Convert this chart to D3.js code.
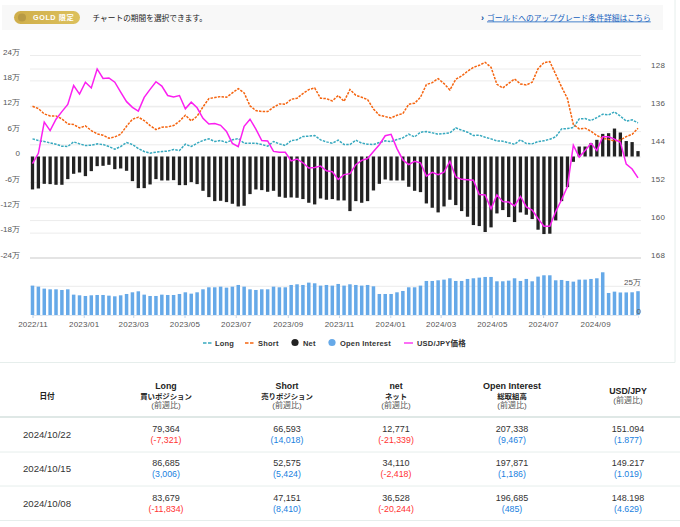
<!DOCTYPE html>
<html>
<head>
<meta charset="utf-8">
<script src="https://cdn.jsdelivr.net/npm/d3@7"></script>
<style>
html, body { margin: 0; padding: 0; background: #fff; }
svg { display: block; font-family: "Liberation Sans", "Noto Sans CJK JP", sans-serif; }
</style>
</head>
<body>
<div id="chart"></div>
<script>
// weekly COT report dates, Tuesdays
var firstDate = new Date(Date.UTC(2022, 10, 1));
var lastDate = new Date(Date.UTC(2024, 9, 22));

var longPos = [41700,37800,35400,32300,29100,24400,23600,34600,29900,26000,26800,29900,28300,23600,17300,23600,33100,28300,18900,11800,7900,10200,11800,12600,16500,14200,29100,23600,31500,37800,41700,35400,37800,33100,39400,42500,31500,31500,31500,28300,24400,35400,29900,26000,37800,39400,47200,48000,49600,39400,34600,31500,38600,
	28300,28300,38600,31500,29100,28300,33100,37000,35400,40100,44100,52700,46400,57500,59000,55900,52700,54300,55900,67700,62200,57500,49600,50400,45600,41700,37000,36200,32300,29100,39400,30700,29900,35400,37000,40900,46400,65300,66100,68500,88900,89700,85000,92100,99900,98400,105500,95513,83679,86685,79364];

var shortPos = [118800,113300,100700,96000,96000,88900,77100,75600,67700,72400,61400,53500,50400,43300,46400,52700,71600,88100,92900,85000,73200,63700,69300,70000,73200,83400,97600,84200,95200,117300,136900,139300,141700,140100,150300,160500,150300,119600,108600,106200,106200,116500,124300,123600,135400,137700,148700,158200,162100,137700,136900,131400,144000,
	130600,158200,144800,140100,134600,112500,97600,94400,91300,97600,101500,123600,125900,140100,170000,174700,184200,172400,157400,182600,190500,201500,210900,215600,222700,210900,170800,162100,173100,183400,171600,169200,175500,207800,221900,224300,194400,164500,136900,75600,65300,66900,59800,49600,43300,40100,37000,38741,47151,52575,66593];

var netPos = [-77900,-75600,-64600,-65300,-66900,-66900,-53500,-40900,-37800,-46400,-34600,-22800,-22000,-19700,-29900,-28300,-33800,-58200,-74800,-74800,-66100,-53500,-56700,-56700,-55900,-67700,-67700,-60600,-65300,-81100,-96000,-105500,-104700,-107800,-111800,-118100,-116500,-88900,-77900,-79500,-83400,-81100,-95200,-97600,-96800,-97600,-100700,-109400,-113300,-99200,-102300,-100700,-103900,
	-103900,-129100,-105500,-109400,-105500,-80300,-64600,-54300,-56700,-56700,-56700,-71600,-81100,-84200,-111000,-121200,-132200,-118100,-102300,-114900,-129100,-142400,-162100,-164500,-178600,-167600,-134600,-126700,-143200,-155000,-132200,-137700,-148000,-173100,-183400,-182600,-151100,-105500,-72400,-12600,23600,23600,31500,39400,53500,55100,66100,56772,36528,34110,12771];

var openInterest = [255800,247100,229700,223800,223800,218000,223800,177300,171500,165700,171500,174400,174400,168600,162800,171500,183100,197700,206400,177300,165700,165700,177300,174400,174400,183100,197700,186000,197700,223800,241300,241300,247100,238400,247100,261600,247100,223800,218000,223800,223800,247100,241300,241300,261600,267400,261600,282000,276200,255800,261600,255800,270400,
	255800,267400,261600,255800,261600,250000,183100,183100,183100,197700,209300,241300,241300,255800,296500,296500,302300,308100,319800,296500,296500,314000,319800,325600,331400,331400,293600,293600,299400,319800,296500,314000,293600,334300,345900,345900,302300,305200,296500,290700,308100,308100,314000,319800,372100,191900,203500,196200,196685,197871,207338];

var usdJpy = [148.1,145.9,139.3,141.1,138.7,137.1,135.6,131.6,133.4,130.9,132.1,128.1,130.1,130.0,130.9,133.0,135.0,136.2,137.0,134.1,132.4,130.8,131.7,133.7,134.0,133.7,136.5,135.1,136.3,138.5,139.7,139.6,140.0,141.3,143.8,144.5,140.2,138.7,140.8,143.2,143.3,145.5,145.7,145.7,147.5,147.1,147.9,149.0,148.9,148.6,149.6,149.8,151.4,
	150.4,150.2,148.3,147.4,147.0,145.5,144.1,142.2,141.9,144.9,147.3,148.3,147.6,147.9,150.7,149.9,150.4,149.9,147.6,150.9,151.4,151.5,151.6,154.6,154.7,157.6,154.7,156.1,156.2,157.0,155.0,157.2,157.9,159.7,161.3,161.3,158.2,155.7,152.9,144.2,146.7,145.3,143.8,145.3,142.4,142.4,142.9,143.569,148.198,149.217,151.094];

var leftTicks = [240000,180000,120000,60000,0,-60000,-120000,-180000,-240000];
var rightTicks = [128,136,144,152,160,168];
var oiTicks = [0,250000];

var tableDates = ["2024/10/22","2024/10/15","2024/10/08"];
var tableLong = ["79,364","86,685","83,679"];
var tableLongChg = ["(-7,321)","(3,006)","(-11,834)"];
var tableShort = ["66,593","52,575","47,151"];
var tableShortChg = ["(14,018)","(5,424)","(8,410)"];
var tableNet = ["12,771","34,110","36,528"];
var tableNetChg = ["(-21,339)","(-2,418)","(-20,244)"];
var tableOi = ["207,338","197,871","196,685"];
var tableOiChg = ["(9,467)","(1,186)","(485)"];
var tableFx = ["151.094","149.217","148.198"];
var tableFxChg = ["(1.877)","(1.019)","(4.629)"];

var dates = d3.utcDay.range(firstDate, d3.utcDay.offset(lastDate, 1), 7);

var svg = d3.select("#chart").append("svg")
	.attr("width", 680)
	.attr("height", 527);

var fontColor = "#555";
var gridColor = "#ececec";

// top notice bar
svg.append("rect").attr("x", 2).attr("y", 5).attr("width", 661).attr("height", 25).attr("fill", "#f8f8f8");
var pill = svg.append("defs").append("linearGradient").attr("id", "gold");
pill.append("stop").attr("offset", "0%").attr("stop-color", "#cfae4a");
pill.append("stop").attr("offset", "100%").attr("stop-color", "#dcc05c");
svg.append("rect").attr("x", 14).attr("y", 11).attr("width", 66).attr("height", 13).attr("rx", 6.5).attr("fill", "url(#gold)");
svg.append("circle").attr("cx", 22).attr("cy", 17.5).attr("r", 4).attr("fill", "#b89a44");
svg.append("text").attr("x", 33).attr("y", 20.3).attr("font-size", 7.2).attr("font-weight", "bold").attr("fill", "#fff").attr("letter-spacing", 0.6).text("GOLD 限定");
svg.append("text").attr("x", 92.5).attr("y", 20.5).attr("font-size", 7.7).attr("fill", "#222").text("チャートの期間を選択できます。");
svg.append("text").attr("x", 481).attr("y", 20.5).attr("font-size", 9).attr("font-weight", "bold").attr("fill", "#0b4ea2").text("›");
svg.append("text").attr("x", 487).attr("y", 20.5).attr("font-size", 7.8).attr("fill", "#1560bd").attr("text-decoration", "underline").text("ゴールドへのアップグレード条件詳細はこちら");

// frame around chart area
svg.append("line").attr("x1", 675).attr("x2", 675).attr("y1", 0).attr("y2", 362.5).attr("stroke", "#e6eeec");
svg.append("line").attr("x1", 0).attr("x2", 675).attr("y1", 362.5).attr("y2", 362.5).attr("stroke", "#e6eeec");

var x = d3.scaleUtc().domain([firstDate, lastDate]).range([32.5, 638]);
var yLeft = d3.scaleLinear().domain([-240000, 240000]).range([258, 55]);
var yFx = d3.scaleLinear().domain([128, 168]).range([68.5, 258]);
var yOi = d3.scaleLinear().domain([0, 250000]).range([315, 286.3]);

var plotLeft = 30, plotRight = 641;

function wan(v) {
	return v == 0 ? "0" : (v / 10000) + "万";
}

// left axis with grid
var leftAxis = svg.append("g")
	.attr("transform", "translate(" + plotLeft + ",0)")
	.call(d3.axisLeft(yLeft).tickValues(leftTicks).tickFormat(wan).tickSize(-(plotRight - plotLeft)).tickPadding(10));
leftAxis.select(".domain").remove();
leftAxis.selectAll("line").attr("stroke", gridColor);
leftAxis.selectAll("text").attr("font-size", 8).attr("font-family", "inherit").attr("fill", fontColor).attr("dy", "-0.8");

// right axis with grid
var rightAxis = svg.append("g")
	.attr("transform", "translate(" + plotRight + ",0)")
	.call(d3.axisRight(yFx).tickValues(rightTicks).tickSize(-(plotRight - plotLeft)).tickPadding(10));
rightAxis.select(".domain").remove();
rightAxis.selectAll("line").attr("stroke", gridColor);
rightAxis.selectAll("text").attr("font-size", 8).attr("font-family", "inherit").attr("fill", fontColor).attr("x", 10).attr("dy", "-1").attr("letter-spacing", 0.3);
svg.append("line").attr("x1", plotLeft).attr("x2", plotRight).attr("y1", 258).attr("y2", 258).attr("stroke", "#e4e4e4").attr("stroke-width", 2);

// net bars
var barWidth = 3.3;
svg.append("g").selectAll("rect").data(netPos).join("rect")
	.attr("x", function(d, i) { return x(dates[i]) - barWidth / 2; })
	.attr("width", barWidth)
	.attr("y", function(d) { return Math.min(yLeft(d), yLeft(0)); })
	.attr("height", function(d) { return Math.abs(yLeft(d) - yLeft(0)); })
	.attr("fill", "#222222");

function drawLine(values, yScale, color, width, dash) {
	var line = d3.line()
		.x(function(d, i) { return x(dates[i]); })
		.y(function(d) { return yScale(d); });
	var path = svg.append("path")
		.attr("d", line(values))
		.attr("fill", "none")
		.attr("stroke", color)
		.attr("stroke-width", width);
	if (dash) path.attr("stroke-dasharray", dash);
}

drawLine(longPos, yLeft, "#37a9bf", 1.5, "2.5,1.2");
drawLine(shortPos, yLeft, "#f5640f", 1.5, "2.5,1.2");
drawLine(usdJpy, yFx, "#fb20f0", 1.5);

// open interest panel
var oiAxis = svg.append("g")
	.attr("transform", "translate(" + plotRight + ",0)")
	.call(d3.axisLeft(yOi).tickValues(oiTicks).tickFormat(wan).tickSize(plotRight - plotLeft).tickPadding(0));
oiAxis.select(".domain").remove();
oiAxis.selectAll("line").attr("stroke", gridColor);

var oiWidth = 3.5;
svg.append("g").selectAll("rect").data(openInterest).join("rect")
	.attr("x", function(d, i) { return x(dates[i]) - oiWidth / 2; })
	.attr("width", oiWidth)
	.attr("y", function(d) { return yOi(d); })
	.attr("height", function(d) { return yOi(0) - yOi(d); })
	.attr("fill", "#66a9e8");

// oi labels sit on top of the bars
oiAxis.raise();
oiAxis.selectAll("line").remove();
oiAxis.selectAll("text").attr("x", 0).attr("text-anchor", "end").attr("font-size", 8).attr("font-family", "inherit").attr("fill", fontColor).attr("dy", "-1.5");

// x axis
var monthTicks = d3.utcMonth.every(2).range(firstDate, lastDate);
var xAxis = svg.append("g")
	.attr("transform", "translate(0,315)")
	.call(d3.axisBottom(x).tickValues(monthTicks).tickFormat(d3.utcFormat("%Y/%m")).tickSize(3).tickPadding(3));
xAxis.select(".domain").attr("stroke", "#dfe8f2");
xAxis.selectAll("line").attr("stroke", "#c8d6e6");
xAxis.selectAll("text").attr("font-size", 8).attr("font-family", "inherit").attr("fill", fontColor).attr("letter-spacing", 0.2);

// gridline of the oi panel stays visible behind the bars
svg.append("line").attr("x1", plotLeft).attr("x2", plotRight).attr("y1", yOi(250000)).attr("y2", yOi(250000)).attr("stroke", gridColor).lower();

// legend
var legendNames = ["Long", "Short", "Net", "Open Interest", "USD/JPY価格"];
var legendColors = ["#37a9bf", "#f5640f", "#222222", "#66a9e8", "#fb20f0"];
var legendKinds = ["dash", "dash", "dot", "dot", "solid"];
var legendStart = [203, 245, 291, 328, 404];
var legendText = [215, 258, 303, 340, 417];
var legend = svg.append("g").selectAll("g").data(legendNames).join("g");
legend.each(function(d, i) {
	var g = d3.select(this);
	if (legendKinds[i] == "dot") {
		g.append("circle").attr("cx", legendStart[i] + 4).attr("cy", 342.5).attr("r", 3.6).attr("fill", legendColors[i]);
	} else {
		var l = g.append("line").attr("x1", legendStart[i]).attr("x2", legendStart[i] + 9).attr("y1", 343).attr("y2", 343)
			.attr("stroke", legendColors[i]).attr("stroke-width", 1.3);
		if (legendKinds[i] == "dash") l.attr("stroke-dasharray", "3.5,1.5");
	}
	g.append("text").attr("x", legendText[i]).attr("y", 346).attr("font-size", 7.5).attr("font-weight", "bold")
		.attr("fill", "#333").attr("letter-spacing", 0.2).text(d);
});

// table below the chart
var colCenter = [47, 166, 287, 396, 512, 628];
var ruleColor = "#e6eeec";

function cell(cx, cy, str, color, size, bold) {
	svg.append("text")
		.attr("x", cx).attr("y", cy)
		.attr("text-anchor", "middle")
		.attr("font-size", size)
		.attr("font-weight", bold ? "bold" : "normal")
		.attr("fill", color)
		.text(str);
}

var dark = "#222", mid = "#555";
cell(colCenter[0], 398.5, "日付", dark, 7.6, true);
cell(colCenter[1], 389, "Long", dark, 8.8, true);
cell(colCenter[1], 398.5, "買いポジション", dark, 7.4, true);
cell(colCenter[1], 408, "(前週比)", mid, 8, false);
cell(colCenter[2], 389, "Short", dark, 8.8, true);
cell(colCenter[2], 398.5, "売りポジション", dark, 7.4, true);
cell(colCenter[2], 408, "(前週比)", mid, 8, false);
cell(colCenter[3], 389, "net", dark, 8.8, true);
cell(colCenter[3], 398.5, "ネット", dark, 7.4, true);
cell(colCenter[3], 408, "(前週比)", mid, 8, false);
cell(colCenter[4], 389, "Open Interest", dark, 9, true);
cell(colCenter[4], 398.5, "総取組高", dark, 7.4, true);
cell(colCenter[4], 408, "(前週比)", mid, 8, false);
cell(colCenter[5], 393.5, "USD/JPY", dark, 8.8, true);
cell(colCenter[5], 403, "(前週比)", mid, 8, false);

svg.append("line").attr("x1", 0).attr("x2", 680).attr("y1", 417).attr("y2", 417).attr("stroke", "#dfe8e6").attr("stroke-width", 2);

function chgColor(str) {
	return str.indexOf("-") >= 0 ? "#ff3333" : "#1a7fe0";
}

var rowTop = [429, 463, 497.5];
var rowRule = [452, 486, 520.5];
var valueCols = [
	[tableLong, tableLongChg],
	[tableShort, tableShortChg],
	[tableNet, tableNetChg],
	[tableOi, tableOiChg],
	[tableFx, tableFxChg]
];
tableDates.forEach(function(date, r) {
	cell(colCenter[0], rowTop[r] + 9.2, date, "#333", 9.6, false);
	valueCols.forEach(function(col, c) {
		cell(colCenter[c + 1], rowTop[r] + 3.2, col[0][r], "#333", 9, false);
		cell(colCenter[c + 1], rowTop[r] + 14.4, col[1][r], chgColor(col[1][r]), 8.8, false);
	});
	svg.append("line").attr("x1", 0).attr("x2", 680).attr("y1", rowRule[r]).attr("y2", rowRule[r]).attr("stroke", ruleColor).attr("stroke-width", 1);
});
</script>
</body>
</html>
